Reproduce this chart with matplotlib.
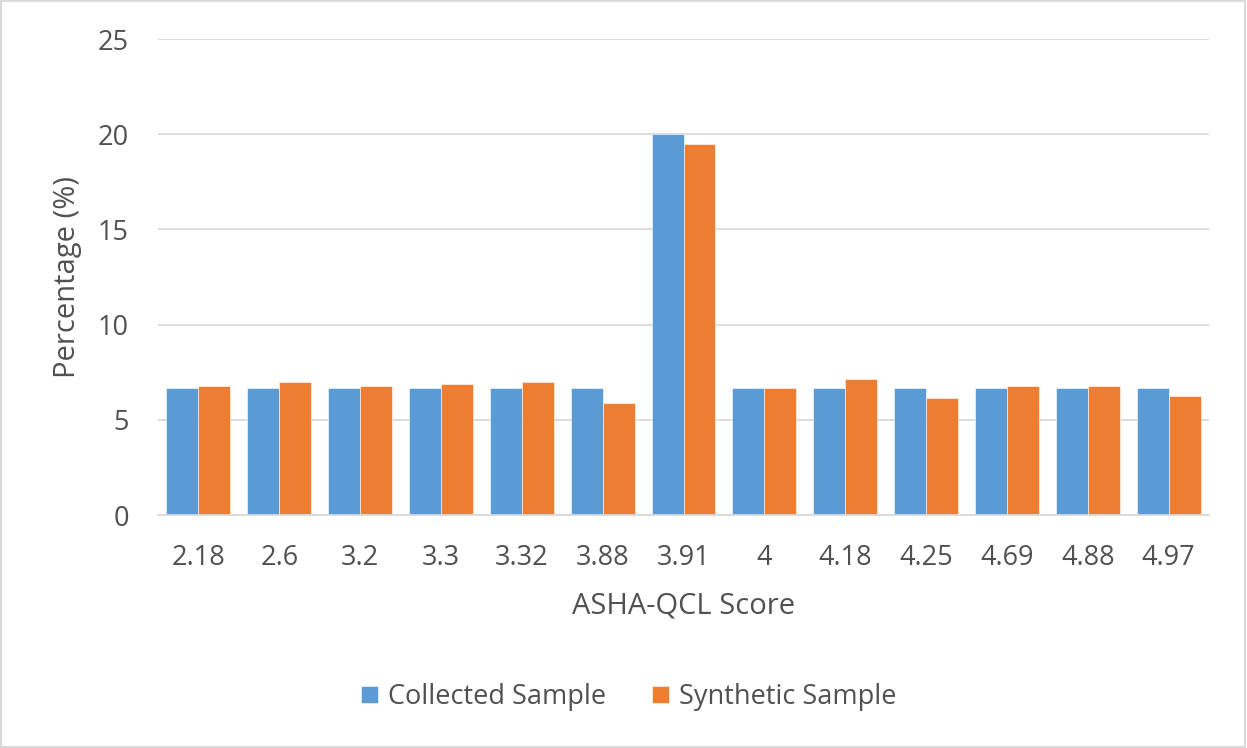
import matplotlib
matplotlib.use("Agg")
import matplotlib.pyplot as plt
from matplotlib.patches import Rectangle, Patch
import numpy as np

# ASHA-QCL score categories and percentage shares
categories = ["2.18", "2.6", "3.2", "3.3", "3.32", "3.88", "3.91",
              "4", "4.18", "4.25", "4.69", "4.88", "4.97"]
collected = [6.67, 6.67, 6.67, 6.67, 6.67, 6.67, 20.0,
             6.67, 6.67, 6.67, 6.67, 6.67, 6.67]
synthetic = [6.8, 7.0, 6.8, 6.9, 7.0, 5.9, 19.5,
             6.67, 7.15, 6.15, 6.8, 6.8, 6.25]
series_names = ["Collected Sample", "Synthetic Sample"]
y_ticks = [0, 5, 10, 15, 20, 25]

BLUE = "#5B9BD5"
ORANGE = "#ED7D31"
TEXT = "#505050"
GRID = "#D9D9D9"
FS = 19.5
FS_TITLE = 21

plt.rcParams["font.family"] = ["Open Sans", "DejaVu Sans"]

fig = plt.figure(figsize=(12.47, 7.48), dpi=100)
ax = fig.add_axes([158 / 1247, 1 - 515 / 748, (1209 - 158) / 1247, (515 - 39) / 748])

x = np.arange(len(categories))
w = 0.395
ax.bar(x - w / 2, collected, width=w, color=BLUE, edgecolor="white", linewidth=0.4, zorder=3)
ax.bar(x + w / 2, synthetic, width=w, color=ORANGE, edgecolor="white", linewidth=0.4, zorder=3)

ax.set_xlim(-0.5, len(categories) - 0.5)
ax.set_ylim(0, 25)
ax.set_yticks(y_ticks)
ax.set_xticks(x)
ax.set_xticklabels(categories)

ax.yaxis.grid(True, color=GRID, linewidth=1.3, zorder=0)
ax.set_axisbelow(True)
for side in ["top", "right", "left"]:
    ax.spines[side].set_visible(False)
ax.spines["bottom"].set_color(GRID)
ax.spines["bottom"].set_linewidth(1.3)
ax.spines["bottom"].set_zorder(4)

ax.tick_params(axis="both", length=0, labelsize=FS, labelcolor=TEXT)
ax.tick_params(axis="x", pad=21)
ax.tick_params(axis="y", pad=21)

ax.set_xlabel("ASHA-QCL Score", fontsize=FS_TITLE, color=TEXT, va="center")
ax.xaxis.set_label_coords(0.5, (515 - 606) / 476)
ax.set_ylabel("Percentage (%)", fontsize=FS_TITLE, color=TEXT, va="center")
ax.yaxis.set_label_coords((68 - 158) / 1051, 0.5)

handles = [Patch(facecolor=BLUE, edgecolor="white", linewidth=0.4),
           Patch(facecolor=ORANGE, edgecolor="white", linewidth=0.4)]
fig.legend(handles, series_names, loc="center", bbox_to_anchor=(629 / 1247, 1 - 697 / 748),
           ncol=2, frameon=False, fontsize=FS, labelcolor=TEXT,
           handlelength=0.62, handleheight=0.62, handletextpad=0.37, columnspacing=1.7)

# light outer border around the chart area
fig.patches.append(Rectangle((0.001, 0.002), 0.997, 0.996, transform=fig.transFigure,
                             fill=False, edgecolor=GRID, linewidth=1.5))

fig.savefig("out.png", dpi=100, facecolor="white")
